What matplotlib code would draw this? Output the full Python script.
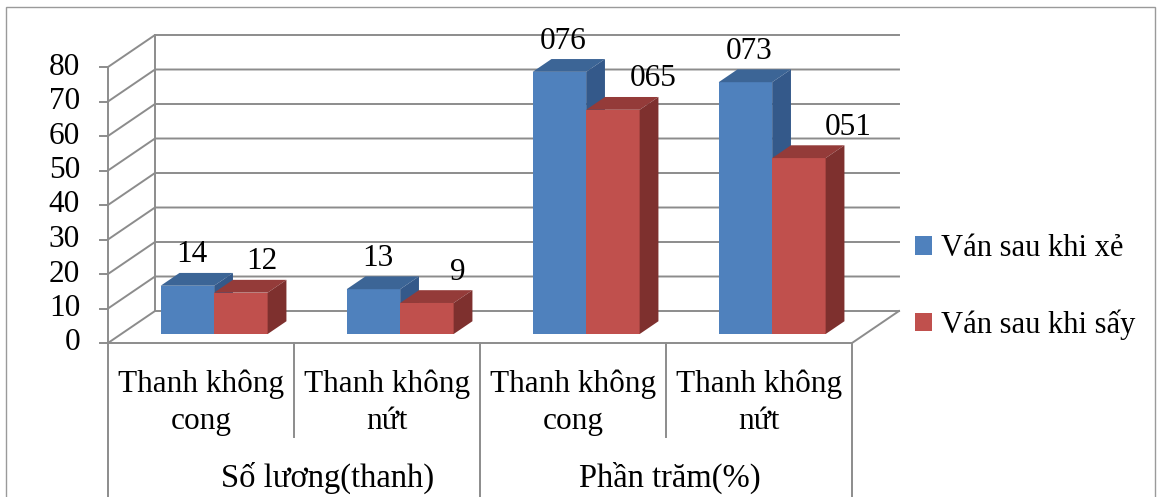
import matplotlib.pyplot as plt
from matplotlib.patches import Polygon, Rectangle, Patch

plt.rcParams['font.family'] = ['Liberation Serif', 'DejaVu Serif']

# data
groups = ["Số lương(thanh)", "Phần trăm(%)"]
categories = ["Thanh không\ncong", "Thanh không\nnứt", "Thanh không\ncong", "Thanh không\nnứt"]
series = ["Ván sau khi xẻ", "Ván sau khi sấy"]
after_sawing = [14, 13, 76, 73]
after_drying = [12, 9, 65, 51]
label_fmt = ["{:d}", "{:d}", "{:03d}", "{:03d}"]

W, H = 1161, 497
fig = plt.figure(figsize=(W / 100, H / 100), dpi=100)
fig.patch.set_facecolor('white')

# frame around the whole chart
fig.add_artist(Rectangle((6 / W, -0.05), 1149 / W, 1.05 - 7 / H, transform=fig.transFigure,
                         fill=False, ec='#9a9a9a', lw=1.0))

ax = fig.add_axes([108 / W, (H - 343) / H, 744 / W, 276 / H])
ax.set_xlim(0, 4)
ax.set_ylim(0, 80)
ax.axis('off')

PX = 744 / 4      # pixels per category
PY = 276 / 80     # pixels per value unit
DX = 47 / PX      # depth offset of the back wall
DY = 32 / PY

grid_c = '#8c8c8c'
kw = dict(color=grid_c, lw=1.4, clip_on=False, zorder=1)

# walls and gridlines
for v in range(0, 90, 10):
    ax.plot([0, DX, 4 + DX], [v, v + DY, v + DY], **kw)
    ax.plot([-8 / PX, 0], [v, v], **kw)
    ax.text(-28 / PX, v, str(v), ha='right', va='center', fontsize=22.5)
ax.plot([DX, DX], [DY, 80 + DY], **kw)
ax.plot([0, 0], [0, 80], **kw)
ax.plot([0, 4, 4 + DX], [0, 0, DY], **kw)

# category separators below the floor
y_bottom = (343 - H - 5) / PY
y_mid = (343 - 437) / PY
for x in [0, 2, 4]:
    ax.plot([x, x], [0, y_bottom], **kw)
for x in [1, 3]:
    ax.plot([x, x], [0, y_mid], **kw)

for i, c in enumerate(categories):
    ax.text(i + 0.5, (343 - 403) / PY, c, ha='center', va='center',
            fontsize=22.5, linespacing=1.38)
group_x = [1.18, 3.02]
for g, name in enumerate(groups):
    ax.text(group_x[g], (343 - 478) / PY, name, ha='center', va='center', fontsize=23.5)

# 3d-style bars
colors = [('#4F81BD', '#3C6596', '#34598A'), ('#C0504D', '#943B39', '#7E302E')]
BW = 0.2875
GAP = (1 - 2 * BW) / 2
d0, bd = 0.28, 0.40

for i in range(len(categories)):
    for s, vals in enumerate([after_sawing, after_drying]):
        v = vals[i]
        front, top, side = colors[s]
        x0 = i + GAP + s * BW + d0 * DX
        y0 = d0 * DY
        bx, by = bd * DX, bd * DY
        z = 3 + i * 2 + s
        ax.add_patch(Rectangle((x0, y0), BW, v, fc=front, ec='none', clip_on=False, zorder=z))
        ax.add_patch(Polygon([(x0, y0 + v), (x0 + BW, y0 + v), (x0 + BW + bx, y0 + v + by),
                              (x0 + bx, y0 + v + by)], fc=top, ec='none', clip_on=False, zorder=z))
        ax.add_patch(Polygon([(x0 + BW, y0), (x0 + BW + bx, y0 + by), (x0 + BW + bx, y0 + v + by),
                              (x0 + BW, y0 + v)], fc=side, ec='none', clip_on=False, zorder=z))
        # value labels drift right with the perspective
        dx_px = 4 if s == 0 else 21 + 9.5 * i
        ax.text(x0 + BW / 2 + dx_px / PX, y0 + v + by + 18 / PY, label_fmt[i].format(v),
                ha='center', va='center', fontsize=22.5, zorder=20)

handles = [Patch(fc=colors[0][0]), Patch(fc=colors[1][0])]
fig.legend(handles, series, loc='center left', bbox_to_anchor=(903 / W, (H - 287) / H),
           frameon=False, fontsize=22, handlelength=0.55, handleheight=0.55,
           handletextpad=0.3, labelspacing=1.5, borderaxespad=0)

fig.savefig('out.png', dpi=100)
